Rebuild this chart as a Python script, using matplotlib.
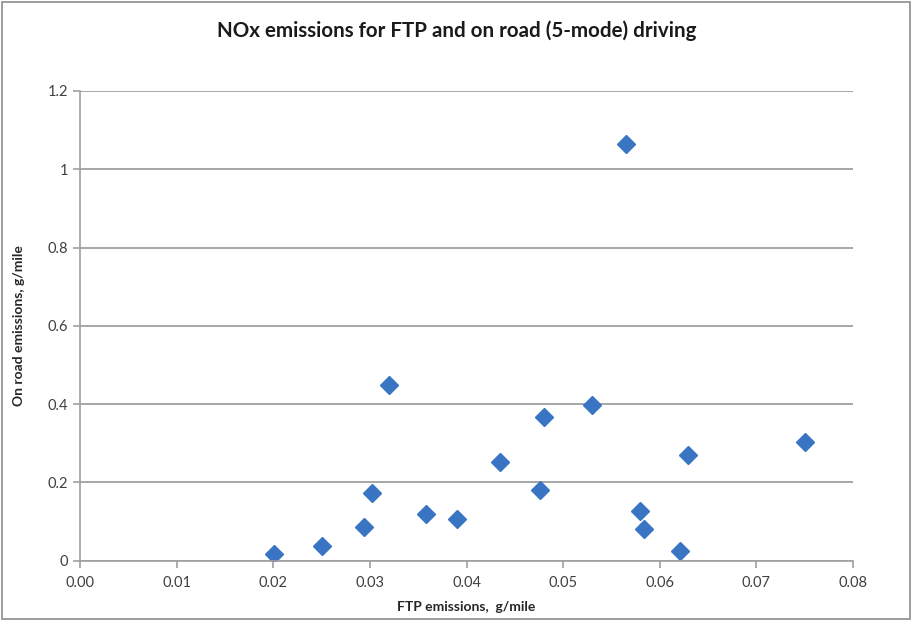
import matplotlib
matplotlib.use("Agg")
import matplotlib.pyplot as plt
from matplotlib.patches import Rectangle

plt.rcParams["font.family"] = ["Lato", "DejaVu Sans"]

# FTP vs on-road NOx, g/mile
ftp = [0.0201, 0.0250, 0.0294, 0.0302, 0.0320, 0.0358, 0.0390, 0.0435, 0.0476,
       0.0480, 0.0530, 0.0565, 0.0580, 0.0584, 0.0621, 0.0629, 0.0750]
on_road = [0.017, 0.037, 0.085, 0.173, 0.449, 0.119, 0.105, 0.252, 0.180,
           0.368, 0.398, 1.064, 0.127, 0.081, 0.024, 0.269, 0.302]

x_ticks = [0.00, 0.01, 0.02, 0.03, 0.04, 0.05, 0.06, 0.07, 0.08]
y_ticks = [0, 0.2, 0.4, 0.6, 0.8, 1, 1.2]
y_labels = ["0", "0.2", "0.4", "0.6", "0.8", "1", "1.2"]

fig = plt.figure(figsize=(9.13, 6.21), dpi=100)
ax = fig.add_axes([80 / 913, 1 - 560.5 / 621, 773 / 913, 469.5 / 621])

ax.plot(ftp, on_road, linestyle="none", marker="D", markersize=9.5,
        color="#3a75c4", markeredgecolor="#3a75c4")

ax.set_xlim(0, 0.08)
ax.set_ylim(0, 1.2)
ax.set_xticks(x_ticks)
ax.set_xticklabels([f"{t:.2f}" for t in x_ticks])
ax.set_yticks(y_ticks)
ax.set_yticklabels(y_labels)
ax.yaxis.grid(True, color="#a6a6a6", linewidth=1.4)
ax.set_axisbelow(True)

for side in ["top", "right"]:
    ax.spines[side].set_visible(False)
for side in ["left", "bottom"]:
    ax.spines[side].set_color("#a0a0a0")
    ax.spines[side].set_linewidth(1.2)
ax.tick_params(colors="#a0a0a0", labelcolor="#404040", labelsize=10.5,
               length=5, width=1.2, direction="out")
ax.tick_params(axis="x", pad=6)

ax.set_xlabel("FTP emissions,  g/mile", fontsize=10, fontweight="bold",
              color="#262626", labelpad=8)
ax.set_ylabel("On road emissions, g/mile", fontsize=10, fontweight="bold",
              color="#262626", labelpad=16)

fig.text(0.5, 1 - 31 / 621, "NOx emissions for FTP and on road (5-mode) driving",
         ha="center", va="center", fontsize=14.8, fontweight="bold", color="#1a1a1a")

fig.patches.append(Rectangle((0.002, 0.004), 0.995, 0.992, transform=fig.transFigure,
                             fill=False, edgecolor="#8c8c8c", linewidth=1.2))

fig.savefig("out.png", dpi=100)
